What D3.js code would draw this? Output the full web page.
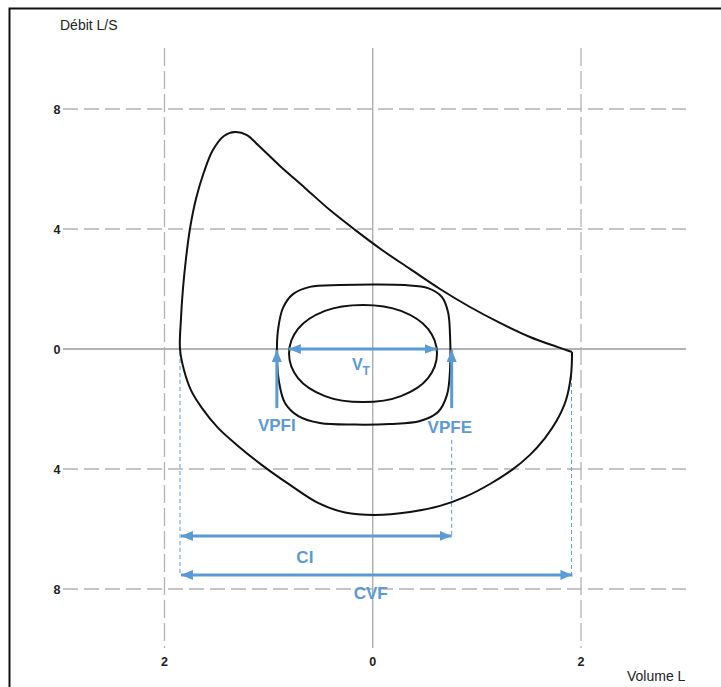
<!DOCTYPE html>
<html><head><meta charset="utf-8">
<script src="https://cdn.jsdelivr.net/npm/d3@7/dist/d3.min.js"></script>
<style>body{margin:0;background:#fff}svg{display:block}text{font-family:"Liberation Sans",Arial,sans-serif}</style>
</head><body><svg id="c" width="721" height="687"></svg>
<script>
// Axis ticks
const xTicks = [-2, 0, 2];
const yTicks = [-8, -4, 0, 4, 8];
// Outer loop (forced inspiration then expiration): [volume L, flow L/s], starting at the right corner
const outerLoop = [
  [1.914,-0.10],[1.904,-0.87],[1.856,-1.70],[1.770,-2.37],[1.654,-2.97],[1.510,-3.53],
  [1.337,-4.03],[1.126,-4.50],[0.886,-4.93],[0.646,-5.23],[0.358,-5.43],[0.022,-5.53],
  [-0.266,-5.45],[-0.526,-5.13],[-0.795,-4.53],[-1.064,-3.87],[-1.294,-3.23],[-1.486,-2.63],
  [-1.640,-1.97],[-1.746,-1.37],[-1.813,-0.70],[-1.851,0.00],
  [-1.842,1.00],[-1.823,2.00],[-1.794,3.00],[-1.756,4.00],[-1.698,5.00],[-1.621,5.90],
  [-1.535,6.63],[-1.429,7.10],[-1.323,7.23],[-1.208,7.13],[-1.102,6.80],[-0.891,6.10],
  [-0.651,5.37],[-0.411,4.63],[-0.170,3.97],[0.089,3.30],[0.358,2.67],[0.646,2.00],
  [0.934,1.40],[1.222,0.87],[1.510,0.40],[1.770,0.07],[1.914,-0.10]
];
// Middle loop (VPFI / VPFE)
const middleLoop = [
  [-0.920,-0.20],[-0.910,0.63],[-0.862,1.37],[-0.766,1.83],[-0.603,2.07],[-0.315,2.13],
  [0.002,2.15],[0.310,2.13],[0.531,2.03],[0.665,1.73],[0.723,1.23],[0.742,0.47],
  [0.742,-0.70],[0.713,-1.53],[0.627,-2.10],[0.454,-2.40],[0.166,-2.50],[-0.170,-2.52],
  [-0.507,-2.47],[-0.718,-2.23],[-0.843,-1.80],[-0.900,-1.10]
];
// Inner loop (tidal breathing)
const innerLoop = [
  [0.617,-0.15],[0.531,0.67],[0.271,1.27],[-0.094,1.47],[-0.459,1.27],[-0.718,0.67],
  [-0.804,-0.15],[-0.718,-0.97],[-0.459,-1.57],[-0.094,-1.77],[0.271,-1.57],[0.531,-0.97]
];
// Annotation arrows
const arrows = [
  {name:"VT",   v1:-0.806, f1:0.00,  v2:0.614, f2:0.00,  both:true},
  {name:"VPFI", v1:-0.921, f1:-1.97, v2:-0.921,f2:-0.03, both:false},
  {name:"VPFE", v1:0.758,  f1:-1.97, v2:0.758, f2:-0.03, both:false},
  {name:"CI",   v1:-1.842, f1:-6.23, v2:0.758, f2:-6.23, both:true},
  {name:"CVF",  v1:-1.842, f1:-7.53, v2:1.918, f2:-7.53, both:true}
];
const guides = [
  {v:-1.851, f1:-0.10, f2:-7.53},
  {v:0.758,  f1:-3.03, f2:-6.23},
  {v:1.909,  f1:-0.20, f2:-7.53}
];
const labels = [
  {t:"VPFI", v:-0.921, f:-2.73},
  {t:"VPFE", v:0.740,  f:-2.80},
  {t:"CI",   v:-0.652, f:-7.13},
  {t:"CVF",  v:-0.020, f:-8.33}
];

const svg = d3.select("#c");
const blue = "#5a9bd5";
const x = d3.scaleLinear().domain([-2, 2]).range([164.5, 581]);
const y = d3.scaleLinear().domain([-8, 8]).range([589, 109]);

// frame
svg.append("rect").attr("x",9.5).attr("y",8.5).attr("width",730).attr("height",700)
  .attr("fill","none").attr("stroke","#111").attr("stroke-width",2);

// grid
svg.selectAll(".hg").data(yTicks).join("line")
  .attr("x1",63).attr("x2",686).attr("y1",d=>y(d)).attr("y2",d=>y(d))
  .attr("stroke",d=>d===0?"#9a9a9a":"#b3b3b3").attr("stroke-width",d=>d===0?1.5:1.3)
  .attr("stroke-dasharray",d=>d===0?null:"15,6");
svg.selectAll(".vg").data(xTicks).join("line")
  .attr("y1",48).attr("y2",648).attr("x1",d=>x(d)).attr("x2",d=>x(d))
  .attr("stroke",d=>d===0?"#a0a0a0":"#b3b3b3").attr("stroke-width",d=>d===0?1.2:1.3)
  .attr("stroke-dasharray",d=>d===0?null:"18,5");

// tick labels
svg.selectAll(".yl").data(yTicks).join("text")
  .attr("x",57).attr("y",d=>y(d)+4.5).attr("text-anchor","middle")
  .attr("font-size",12.5).attr("font-weight","bold").attr("fill","#222")
  .text(d=>Math.abs(d));
svg.selectAll(".xl").data(xTicks).join("text")
  .attr("x",d=>x(d)).attr("y",666).attr("text-anchor","middle")
  .attr("font-size",12.5).attr("font-weight","bold").attr("fill","#222")
  .text(d=>Math.abs(d));
svg.append("text").attr("x",60).attr("y",30).attr("font-size",14).attr("fill","#222").text("Débit L/S");
svg.append("text").attr("x",627).attr("y",681).attr("font-size",14).attr("fill","#222").text("Volume L");

// guides
svg.selectAll(".gd").data(guides).join("line")
  .attr("x1",d=>x(d.v)).attr("x2",d=>x(d.v)).attr("y1",d=>y(d.f1)).attr("y2",d=>y(d.f2))
  .attr("stroke",blue).attr("stroke-width",1).attr("stroke-dasharray","4,3");

// loops
const lineOpen = d3.line().x(d=>x(d[0])).y(d=>y(d[1])).curve(d3.curveCatmullRom.alpha(0.5));
const lineClosed = d3.line().x(d=>x(d[0])).y(d=>y(d[1])).curve(d3.curveCatmullRomClosed.alpha(0.5));
svg.append("path").attr("d",lineOpen(outerLoop)).attr("fill","none").attr("stroke","#111").attr("stroke-width",2).attr("stroke-linejoin","round");
svg.append("path").attr("d",lineClosed(middleLoop)).attr("fill","none").attr("stroke","#111").attr("stroke-width",2);
svg.append("path").attr("d",lineClosed(innerLoop)).attr("fill","none").attr("stroke","#111").attr("stroke-width",2);

// arrows
const defs = svg.append("defs");
defs.append("marker").attr("id","ah").attr("viewBox","0 0 12 10").attr("refX",12).attr("refY",5)
  .attr("markerWidth",12).attr("markerHeight",10).attr("markerUnits","userSpaceOnUse").attr("orient","auto-start-reverse")
  .append("path").attr("d","M0,0 L12,5 L0,10 Z").attr("fill",blue);
svg.selectAll(".ar").data(arrows).join("line")
  .attr("x1",d=>x(d.v1)).attr("y1",d=>y(d.f1)).attr("x2",d=>x(d.v2)).attr("y2",d=>y(d.f2))
  .attr("stroke",blue).attr("stroke-width",3)
  .attr("marker-end","url(#ah)").attr("marker-start",d=>d.both?"url(#ah)":null);

// labels
svg.selectAll(".lb").data(labels).join("text")
  .attr("x",d=>x(d.v)).attr("y",d=>y(d.f)).attr("text-anchor","middle")
  .attr("font-size",17).attr("font-weight","bold").attr("fill",blue).text(d=>d.t);
const vt = svg.append("text").attr("x",x(-0.20)).attr("y",y(-0.70)).attr("font-size",16)
  .attr("font-weight","bold").attr("fill",blue);
vt.append("tspan").text("V");
vt.append("tspan").attr("dy",5).attr("font-size",12).text("T");
</script></body></html>
